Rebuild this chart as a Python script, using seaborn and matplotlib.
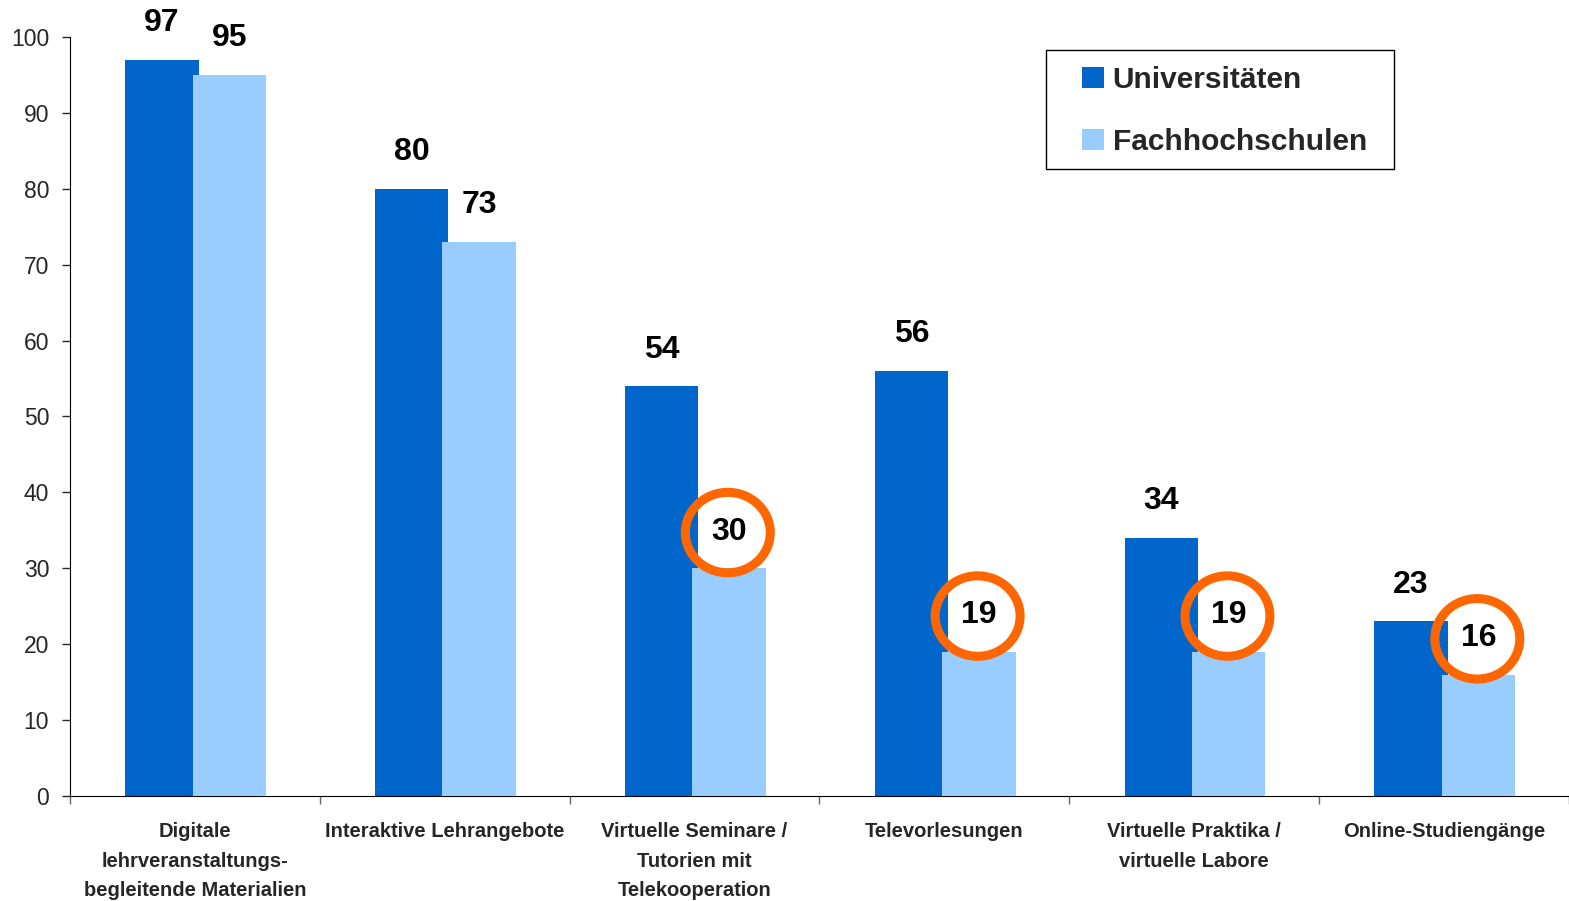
import pandas as pd
import numpy as np
import matplotlib
matplotlib.use("Agg")
import matplotlib.pyplot as plt
import seaborn as sns
from matplotlib.patches import Ellipse, Patch, Rectangle

categories = ["Digitale\nlehrveranstaltungs-\nbegleitende Materialien",
              "Interaktive Lehrangebote",
              "Virtuelle Seminare /\nTutorien mit\nTelekooperation",
              "Televorlesungen",
              "Virtuelle Praktika /\nvirtuelle Labore",
              "Online-Studiengänge"]
universitaeten = [97, 80, 54, 56, 34, 23]
fachhochschulen = [95, 73, 30, 19, 19, 16]
circled = [2, 3, 4, 5]
series = ["Universitäten", "Fachhochschulen"]
colors = ["#0066CC", "#99CCFF"]

df = pd.DataFrame({
    "kategorie": categories * 2,
    "wert": universitaeten + fachhochschulen,
    "typ": [series[0]] * 6 + [series[1]] * 6,
})

sns.set_style("white")
plt.rcParams['font.family'] = ['Liberation Sans', 'DejaVu Sans']

fig = plt.figure(figsize=(15.69, 9.01), dpi=100)
ax = fig.add_axes([0.0446, 0.1166, 0.9554, 0.8424])

sns.barplot(data=df, x="kategorie", y="wert", hue="typ", palette=colors,
            width=0.54, gap=0, saturation=1, legend=False, ax=ax)

# bars slightly wider so the light one overlaps the dark one
for k, cont in enumerate(ax.containers):
    for bar in cont:
        cx = bar.get_x() + bar.get_width() / 2
        bar.set_width(0.294)
        bar.set_x(cx - 0.147 + 0.003)
        bar.set_zorder(2 + k)
        bar.set_edgecolor("none")

for k, cont in enumerate(ax.containers):
    vals = universitaeten if k == 0 else fachhochschulen
    for i, bar in enumerate(cont):
        cx = bar.get_x() + bar.get_width() / 2
        ax.text(cx, vals[i] + 4.8, str(vals[i]), ha="center", va="center",
                fontsize=23, fontweight="bold", color="black", zorder=5)
        if k == 1 and i in circled:
            ax.add_patch(Ellipse((cx - 0.005, vals[i] + 4.7), 0.34, 10.6,
                                 fill=False, edgecolor="#FF6600",
                                 linewidth=6.5, zorder=6, clip_on=False))

ax.set_xlim(-0.5, 5.5)
ax.set_ylim(0, 100)
ax.set_yticks(np.arange(0, 101, 10))
ax.tick_params(axis="y", labelsize=16.5, length=6, width=1, direction="out",
               left=True, pad=9)
ax.set_xticks(np.arange(-0.5, 5.6, 1))
ax.set_xticklabels([])
ax.set_xticks(np.arange(6), categories, minor=True)
ax.tick_params(axis="x", which="major", length=6, width=1, direction="out",
               bottom=True, color="#666666")
ax.tick_params(axis="x", which="minor", length=0, pad=19)
for lab in ax.get_xticklabels(minor=True):
    lab.set_fontsize(14.5)
    lab.set_fontweight("bold")
    lab.set_linespacing(1.7)
    lab.set_verticalalignment("top")

ax.set_xlabel("")
ax.set_ylabel("")
sns.despine(ax=ax, top=True, right=True)
ax.spines["left"].set_color("black")
ax.spines["bottom"].set_color("black")

# legend box
ax.add_patch(Rectangle((0.6511, 0.8261), 0.2322, 0.1568, transform=ax.transAxes,
                       fill=True, facecolor="white", edgecolor="black",
                       linewidth=1, zorder=7, clip_on=False))
handles = [Patch(facecolor=c, edgecolor="none") for c in colors]
leg = ax.legend(handles, series, loc="center left",
                bbox_to_anchor=(0.6751, 0.9025), frameon=False,
                prop={"size": 21.5, "weight": "bold"}, handlelength=0.73,
                handleheight=0.73, handletextpad=0.3, borderpad=0,
                labelspacing=1.15, borderaxespad=0)
leg.set_zorder(8)

fig.savefig("out.png", dpi=100)
